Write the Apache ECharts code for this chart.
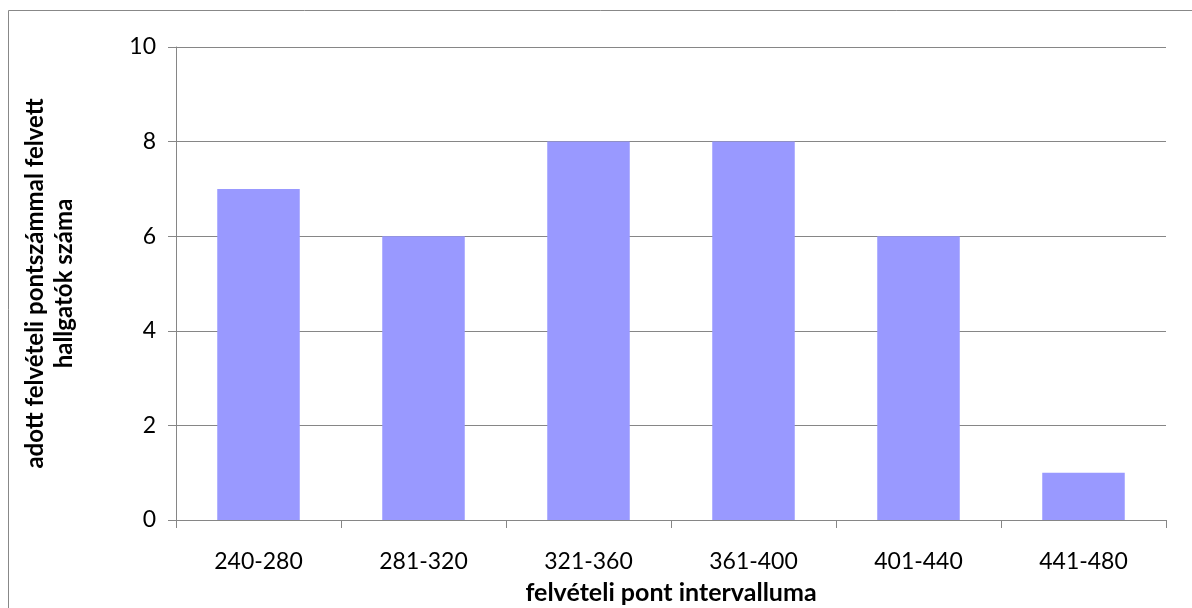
<!DOCTYPE html>
<html>
<head>
<meta charset="utf-8">
<script src="https://cdn.jsdelivr.net/npm/echarts@6/dist/echarts.min.js"></script>
<style>
html,body{margin:0;padding:0;background:#fff;}
#chart{width:1192px;height:608px;}
</style>
</head>
<body>
<div id="chart"></div>
<script>
const categories = ['240-280', '281-320', '321-360', '361-400', '401-440', '441-480'];
const values = [7, 6, 8, 8, 6, 1];
const yTicks = [0, 2, 4, 6, 8, 10];
const xTitle = 'felvételi pont intervalluma';
const yTitle = 'adott felvételi pontszámmal felvett\nhallgatók száma';

const FONT = 'Lato, "Open Sans", sans-serif';
const chart = echarts.init(document.getElementById('chart'), null, {renderer: 'canvas'});
chart.setOption({
  animation: false,
  backgroundColor: '#ffffff',
  graphic: [{
    type: 'rect',
    shape: {x: 8.5, y: 10.5, width: 1200, height: 700},
    style: {fill: 'none', stroke: '#888888', lineWidth: 1},
    silent: true,
    z: 0
  }],
  grid: {left: 176, right: 26, top: 47, bottom: 88, outerBoundsMode: 'none', containLabel: false},
  xAxis: {
    type: 'category',
    data: categories,
    name: xTitle,
    nameLocation: 'middle',
    nameGap: 60,
    nameTextStyle: {fontFamily: FONT, fontSize: 25, fontWeight: 'bold', color: '#000', verticalAlign: 'top'},
    axisLine: {show: true, lineStyle: {color: '#868686', width: 1}},
    axisTick: {show: true, length: 8, alignWithLabel: false, lineStyle: {color: '#868686'}},
    axisLabel: {fontFamily: FONT, fontSize: 23, color: '#000', margin: 30}
  },
  yAxis: {
    type: 'value',
    min: yTicks[0], max: yTicks[yTicks.length - 1], interval: yTicks[1] - yTicks[0],
    name: yTitle,
    nameLocation: 'middle',
    nameGap: 97,
    nameRotate: 90,
    nameTextStyle: {fontFamily: FONT, fontSize: 24, fontWeight: 'bold', color: '#000', lineHeight: 29},
    axisLine: {show: true, lineStyle: {color: '#868686', width: 1}},
    axisTick: {show: true, length: 8, lineStyle: {color: '#868686'}},
    splitLine: {show: true, lineStyle: {color: '#868686', width: 1}},
    axisLabel: {fontFamily: FONT, fontSize: 23, color: '#000', margin: 20}
  },
  series: [{
    type: 'bar',
    data: values,
    barWidth: '50%',
    itemStyle: {color: '#9999FF'}
  }]
});
</script>
</body>
</html>
